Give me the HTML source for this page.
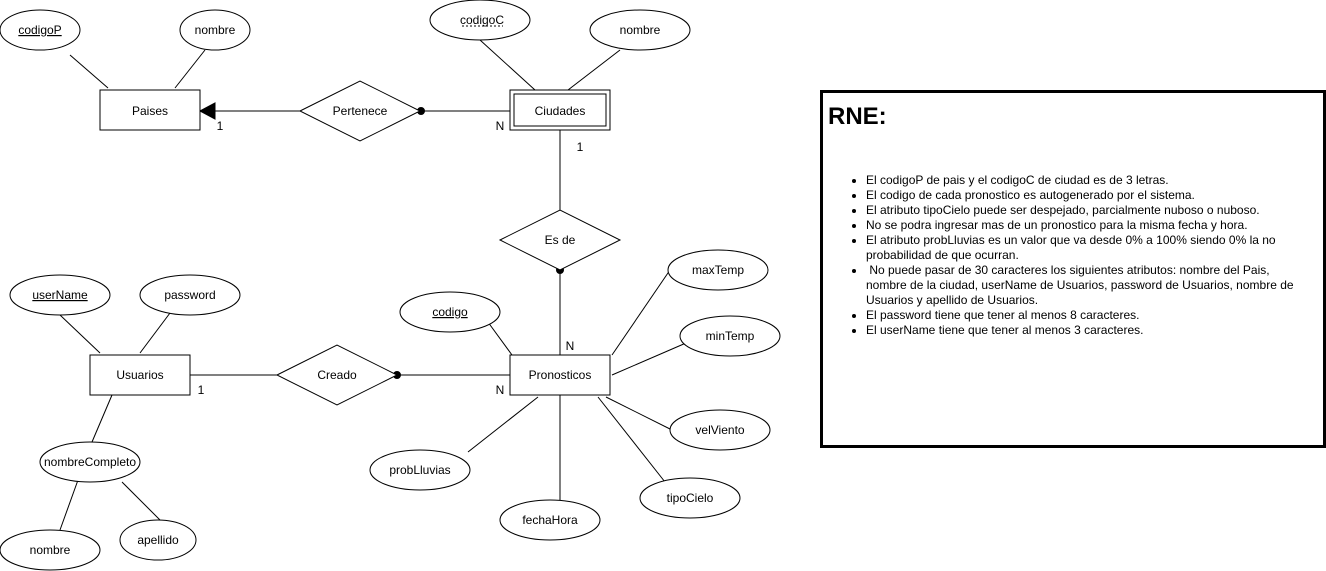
<!DOCTYPE html>
<html><head><meta charset="utf-8"><style>
body{margin:0;background:#fff;width:1326px;height:571px;overflow:hidden;position:relative;font-family:"Liberation Sans",sans-serif}
svg text{font-family:"Liberation Sans",sans-serif;font-size:12px}
#rne{position:absolute;left:820px;top:90px;width:500px;height:352px;border:3px solid #000;background:#fff}
#rne h1{margin:0;position:absolute;left:5px;top:10px;font-size:24px;font-weight:bold}
#rne ul{position:absolute;left:28px;top:80px;margin:0;padding-left:15px;font-size:12px;line-height:15px;width:440px}
</style></head><body>
<svg width="1326" height="571" style="position:absolute;left:0;top:0" stroke="#000" fill="none">
<g stroke-width="1">
<line x1="70" y1="55" x2="108" y2="88"/><line x1="205" y1="50" x2="175" y2="88"/>
<line x1="480" y1="40" x2="535" y2="90"/><line x1="620" y1="50" x2="568" y2="90"/>
<line x1="60" y1="315" x2="100" y2="353"/><line x1="170" y1="313" x2="140" y2="353"/>
<line x1="112" y1="395" x2="92" y2="442"/><line x1="78" y1="480" x2="60" y2="530"/><line x1="122" y1="482" x2="160" y2="520"/>
<line x1="485" y1="318" x2="512" y2="355"/><line x1="670" y1="270" x2="612" y2="355"/>
<line x1="686" y1="343" x2="612" y2="375"/><line x1="672" y1="430" x2="606" y2="397"/>
<line x1="665" y1="482" x2="598" y2="397"/><line x1="560" y1="502" x2="560" y2="395"/>
<line x1="468" y1="452" x2="538" y2="397"/>
<line x1="300" y1="111" x2="214" y2="111"/><line x1="421" y1="111" x2="510" y2="111"/>
<line x1="560" y1="130" x2="560" y2="210"/><line x1="560" y1="270" x2="560" y2="355"/>
<line x1="190" y1="375" x2="277" y2="375"/><line x1="397" y1="375" x2="510" y2="375"/>
</g>
<polygon points="200,111 215,103 215,119" fill="#000"/>
<circle cx="421" cy="111" r="3.5" fill="#000"/><circle cx="560" cy="270" r="3.5" fill="#000"/><circle cx="397" cy="375" r="3.5" fill="#000"/>
<g fill="#fff">
<rect x="100" y="90" width="100" height="40"/>
<rect x="510" y="90" width="100" height="40"/><rect x="514" y="94" width="92" height="32"/>
<rect x="90" y="355" width="100" height="40"/><rect x="510" y="355" width="100" height="40"/>
<polygon points="300,111 360,81 420,111 360,141"/>
<polygon points="500,240 560,210 620,240 560,270"/>
<polygon points="277,375 337,345 397,375 337,405"/>
<ellipse cx="40" cy="30" rx="40" ry="20"/><ellipse cx="215" cy="30" rx="35" ry="20"/>
<ellipse cx="480" cy="20" rx="50" ry="20"/><ellipse cx="640" cy="30" rx="50" ry="20"/>
<ellipse cx="60" cy="295" rx="50" ry="20"/><ellipse cx="190" cy="295" rx="50" ry="20"/>
<ellipse cx="90" cy="462" rx="50" ry="20"/><ellipse cx="50" cy="550" rx="50" ry="20"/><ellipse cx="158" cy="540" rx="38" ry="20"/>
<ellipse cx="450" cy="312" rx="50" ry="20"/><ellipse cx="718" cy="270" rx="50" ry="20"/>
<ellipse cx="730" cy="336" rx="50" ry="20"/><ellipse cx="720" cy="430" rx="50" ry="20"/>
<ellipse cx="690" cy="498" rx="50" ry="20"/><ellipse cx="550" cy="520" rx="50" ry="20"/>
<ellipse cx="420" cy="470" rx="50" ry="20"/>
</g>
<line x1="462" y1="26" x2="503" y2="26" stroke-dasharray="2,2"/>
<g fill="#000" stroke="none" text-anchor="middle">
<text x="40" y="34" text-decoration="underline">codigoP</text><text x="215" y="34">nombre</text>
<text x="482" y="24">codigoC</text><text x="640" y="34">nombre</text>
<text x="150" y="115">Paises</text><text x="360" y="115">Pertenece</text><text x="560" y="115">Ciudades</text>
<text x="560" y="244">Es de</text><text x="140" y="379">Usuarios</text><text x="337" y="379">Creado</text>
<text x="560" y="379">Pronosticos</text>
<text x="60" y="299" text-decoration="underline">userName</text><text x="190" y="299">password</text>
<text x="90" y="466">nombreCompleto</text><text x="50" y="554">nombre</text><text x="158" y="544">apellido</text>
<text x="450" y="316" text-decoration="underline">codigo</text><text x="718" y="274">maxTemp</text>
<text x="730" y="340">minTemp</text><text x="720" y="434">velViento</text><text x="690" y="502">tipoCielo</text>
<text x="550" y="524">fechaHora</text><text x="420" y="474">probLluvias</text>
<text x="220" y="130">1</text><text x="500" y="130">N</text><text x="580" y="151">1</text>
<text x="570" y="350">N</text><text x="500" y="394">N</text><text x="201" y="394">1</text>
</g>
</svg>
<div id="rne"><h1>RNE:</h1>
<ul>
<li>El codigoP de pais y el codigoC de ciudad es de 3 letras.</li>
<li>El codigo de cada pronostico es autogenerado por el sistema.</li>
<li>El atributo tipoCielo puede ser despejado, parcialmente nuboso o nuboso.</li>
<li>No se podra ingresar mas de un pronostico para la misma fecha y hora.</li>
<li>El atributo probLluvias es un valor que va desde 0% a 100% siendo 0% la no probabilidad de que ocurran.</li>
<li>&nbsp;No puede pasar de 30 caracteres los siguientes atributos: nombre del Pais, nombre de la ciudad, userName de Usuarios, password de Usuarios, nombre de Usuarios y apellido de Usuarios.</li>
<li>El password tiene que tener al menos 8 caracteres.</li>
<li>El userName tiene que tener al menos 3 caracteres.</li>
</ul></div>
</body></html>
